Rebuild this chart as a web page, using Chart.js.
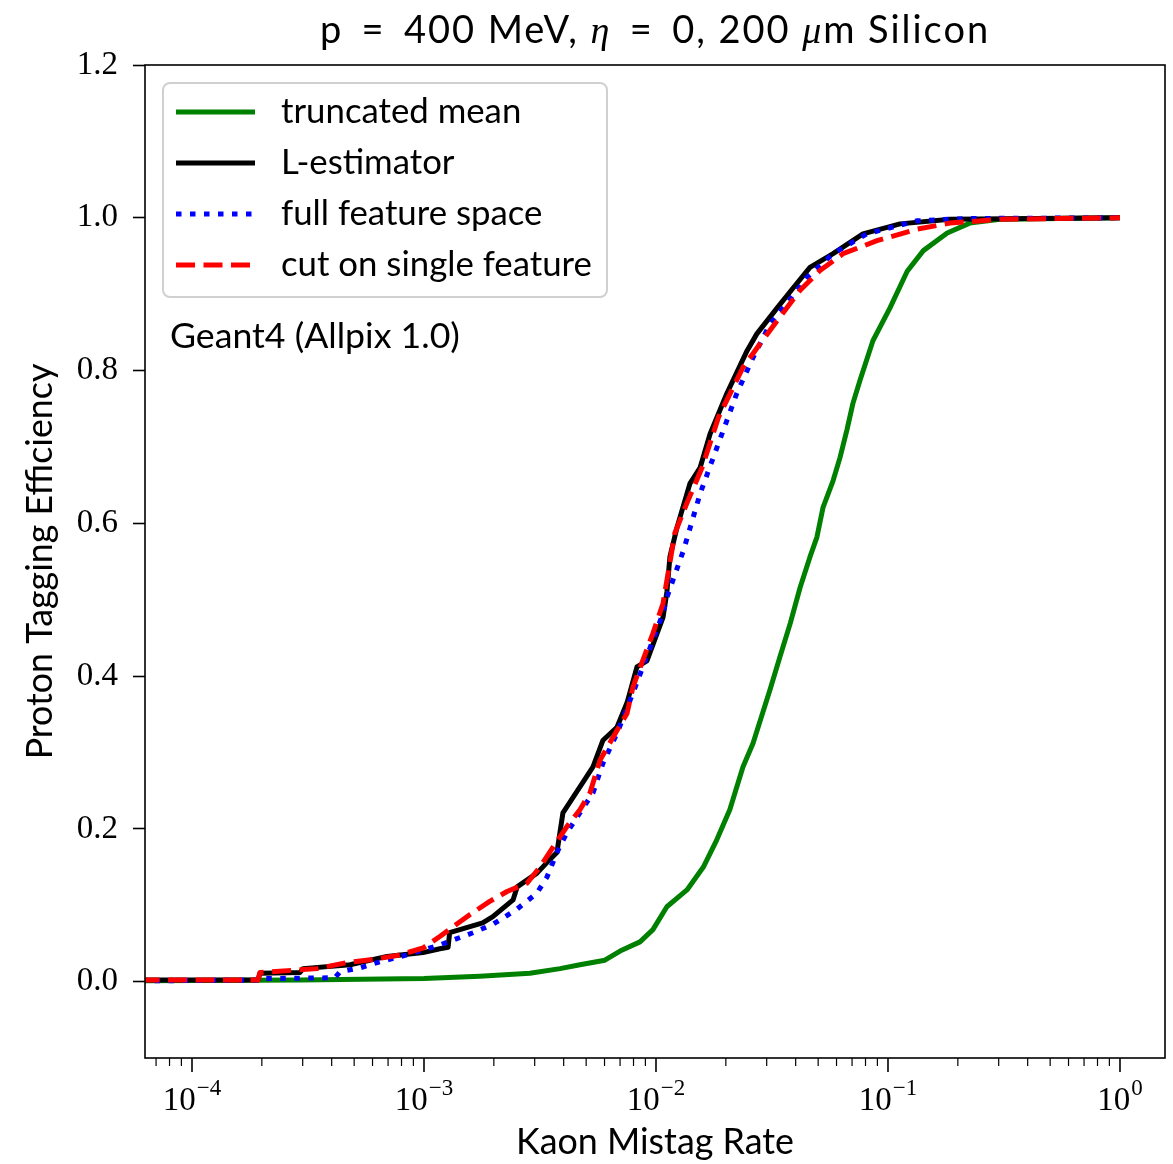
<!DOCTYPE html>
<html>
<head>
<meta charset="utf-8">
<script src="https://cdn.jsdelivr.net/npm/chart.js@4.4.1/dist/chart.umd.min.js"></script>
<style>
html, body { margin: 0; padding: 0; background: #fff; }
#wrap { width: 1173px; height: 1164px; }
</style>
</head>
<body>
<div id="wrap"><canvas id="roc"></canvas></div>
<script>
// kaon mistag rate (x) vs proton tagging efficiency (y)
const truncMeanX = [6e-5, 2.92e-4, 1.0e-3, 1.74e-3, 2.86e-3, 3.86e-3, 4.70e-3, 6.02e-3, 7.0e-3, 8.53e-3, 9.70e-3, 1.114e-2, 1.36e-2, 1.60e-2, 1.83e-2, 2.08e-2, 2.37e-2, 2.62e-2, 3.10e-2, 3.42e-2, 3.79e-2, 4.18e-2, 4.61e-2, 4.94e-2, 5.25e-2, 5.80e-2, 6.21e-2, 6.65e-2, 7.06e-2, 7.57e-2, 8.61e-2, 0.102, 0.121, 0.142, 0.180, 0.225, 0.304, 1.0];
const truncMeanY = [0.001, 0.002, 0.004, 0.007, 0.011, 0.017, 0.022, 0.028, 0.040, 0.052, 0.068, 0.098, 0.120, 0.150, 0.186, 0.225, 0.281, 0.312, 0.382, 0.425, 0.469, 0.516, 0.556, 0.582, 0.621, 0.656, 0.686, 0.722, 0.757, 0.787, 0.839, 0.882, 0.930, 0.957, 0.980, 0.993, 0.998, 1.0];

const lEstX = [6e-5, 1.925e-4, 1.963e-4, 2.92e-4, 3.01e-4, 4.80e-4, 6.93e-4, 9.9e-4, 1.17e-3, 1.27e-3, 1.29e-3, 1.79e-3, 1.98e-3, 2.42e-3, 2.52e-3, 3.07e-3, 3.49e-3, 3.74e-3, 3.97e-3, 4.70e-3, 5.35e-3, 5.91e-3, 6.79e-3, 7.50e-3, 8.28e-3, 9.14e-3, 1.072e-2, 1.114e-2, 1.148e-2, 1.233e-2, 1.40e-2, 1.55e-2, 1.71e-2, 2.02e-2, 2.47e-2, 2.72e-2, 3.33e-2, 3.90e-2, 4.61e-2, 5.80e-2, 7.80e-2, 0.1127, 0.185, 1.0];
const lEstY = [0.002, 0.002, 0.011, 0.012, 0.017, 0.022, 0.033, 0.038, 0.043, 0.045, 0.064, 0.077, 0.085, 0.107, 0.124, 0.142, 0.160, 0.169, 0.221, 0.255, 0.281, 0.316, 0.333, 0.365, 0.412, 0.420, 0.477, 0.510, 0.556, 0.595, 0.652, 0.673, 0.717, 0.770, 0.826, 0.848, 0.882, 0.908, 0.935, 0.953, 0.979, 0.992, 0.998, 1.0];

const fullFeatX = [6e-5, 1.963e-4, 2.06e-4, 4.13e-4, 4.35e-4, 5.30e-4, 6.45e-4, 8.45e-4, 1.17e-3, 1.625e-3, 1.98e-3, 2.52e-3, 3.07e-3, 3.39e-3, 3.74e-3, 4.13e-3, 4.70e-3, 5.35e-3, 5.91e-3, 6.79e-3, 7.96e-3, 9.70e-3, 1.072e-2, 1.114e-2, 1.315e-2, 1.55e-2, 1.83e-2, 2.23e-2, 2.62e-2, 3.10e-2, 3.67e-2, 4.48e-2, 5.80e-2, 8.11e-2, 0.133, 0.219, 1.0];
const fullFeatY = [0.001, 0.002, 0.004, 0.005, 0.013, 0.018, 0.026, 0.035, 0.048, 0.064, 0.075, 0.095, 0.116, 0.137, 0.169, 0.195, 0.221, 0.247, 0.286, 0.325, 0.378, 0.447, 0.482, 0.503, 0.565, 0.639, 0.699, 0.770, 0.817, 0.861, 0.888, 0.922, 0.953, 0.979, 0.996, 0.999, 1.0];

const singleCutX = [6e-5, 1.925e-4, 1.963e-4, 3.46e-4, 4.66e-4, 6.03e-4, 7.88e-4, 9.9e-4, 1.17e-3, 1.58e-3, 1.92e-3, 2.28e-3, 2.78e-3, 3.16e-3, 3.60e-3, 4.13e-3, 4.70e-3, 5.19e-3, 5.74e-3, 6.53e-3, 7.50e-3, 7.96e-3, 9.70e-3, 1.072e-2, 1.205e-2, 1.374e-2, 1.58e-2, 1.86e-2, 2.37e-2, 2.81e-2, 3.42e-2, 4.18e-2, 5.09e-2, 6.40e-2, 8.97e-2, 0.133, 0.185, 0.304, 1.0];
const singleCutY = [0.002, 0.002, 0.012, 0.017, 0.025, 0.029, 0.035, 0.044, 0.059, 0.088, 0.105, 0.118, 0.129, 0.150, 0.176, 0.203, 0.225, 0.247, 0.290, 0.320, 0.351, 0.386, 0.456, 0.495, 0.587, 0.630, 0.673, 0.739, 0.804, 0.835, 0.870, 0.905, 0.931, 0.953, 0.970, 0.985, 0.993, 0.998, 1.0];

const seriesLabels = ['truncated mean', 'L-estimator', 'full feature space', 'cut on single feature'];
const yTickValues = [0, 0.2, 0.4, 0.6, 0.8, 1.0, 1.2];
const xDecadeExps = [-4, -3, -2, -1, 0];
const xDecadeLabels = ['\u22124', '\u22123', '\u22122', '\u22121', '0'];

const SANS = 'Lato';
const SERIF = '"Liberation Serif"';

function pts(xs, ys) { return xs.map((x, i) => ({ x: x, y: ys[i] })); }

function fitSize(ctx, text, family, target) {
  ctx.font = '40px ' + family;
  return 40 * target / ctx.measureText(text).width;
}

const styles = [
  { color: '#008000', width: 5, dash: [] },
  { color: '#000000', width: 5, dash: [] },
  { color: '#0000ff', width: 5, dash: [5.5, 8.5] },
  { color: '#ff0000', width: 5, dash: [19, 8.5] }
];

const decor = {
  id: 'decor',
  beforeDraw(chart) {
    const c = chart.ctx;
    c.save();
    c.fillStyle = '#fff';
    c.fillRect(0, 0, chart.width, chart.height);
    c.restore();
  },
  afterDraw(chart) {
    const c = chart.ctx, a = chart.chartArea, xs = chart.scales.x;
    c.save();
    // frame
    c.strokeStyle = '#000';
    c.lineWidth = 1.6;
    c.strokeRect(a.left, a.top, a.right - a.left, a.bottom - a.top);

    // x ticks, major and minor
    xs.ticks.forEach(t => {
      const px = xs.getPixelForValue(t.value);
      c.lineWidth = t.major ? 1.6 : 1.2;
      c.beginPath();
      c.moveTo(px, a.bottom);
      c.lineTo(px, a.bottom + (t.major ? 14 : 8));
      c.stroke();
    });

    // x tick labels 10^n
    c.fillStyle = '#000';
    c.textAlign = 'left';
    c.textBaseline = 'alphabetic';
    xDecadeExps.forEach((e, i) => {
      const px = xs.getPixelForValue(Math.pow(10, e));
      c.font = '33px ' + SERIF;
      const wb = c.measureText('10').width;
      c.font = '23px ' + SERIF;
      const ws = c.measureText(xDecadeLabels[i]).width;
      const x0 = px - (wb + ws + 1) / 2;
      c.font = '33px ' + SERIF;
      c.fillText('10', x0, 1110);
      c.font = '23px ' + SERIF;
      c.fillText(xDecadeLabels[i], x0 + wb + 1, 1095);
    });

    const cx = (a.left + a.right) / 2;
    const cy = (a.top + a.bottom) / 2;

    // title with math glyphs, a bit of extra room round "="
    const parts = [
      ['p\u2009 = \u2009400 MeV, ', SANS, ''],
      ['\u03b7', SERIF, 'italic'],
      ['\u2009 = \u20090, 200 ', SANS, ''],
      ['\u03bc', SERIF, 'italic'],
      ['m Silicon', SANS, '']
    ];
    const ts = 38;
    let tw = 0, nch = 0;
    parts.forEach(p => { c.font = p[2] + ' ' + ts + 'px ' + p[1]; tw += c.measureText(p[0]).width; nch += p[0].length; });
    const extra = Math.max(0, (670 - tw) / nch);
    c.letterSpacing = extra.toFixed(2) + 'px';
    tw = 0;
    parts.forEach(p => { c.font = p[2] + ' ' + ts + 'px ' + p[1]; tw += c.measureText(p[0]).width; });
    let tx = cx - tw / 2;
    c.textBaseline = 'alphabetic';
    parts.forEach(p => {
      c.font = p[2] + ' ' + ts + 'px ' + p[1];
      c.fillText(p[0], tx, 43);
      tx += c.measureText(p[0]).width;
    });
    c.letterSpacing = '0px';

    // axis titles
    c.textAlign = 'center';
    c.textBaseline = 'middle';
    c.font = fitSize(c, 'Kaon Mistag Rate', SANS, 278) + 'px ' + SANS;
    c.fillText('Kaon Mistag Rate', cx, 1142);
    c.save();
    c.translate(40, cy);
    c.rotate(-Math.PI / 2);
    c.font = fitSize(c, 'Proton Tagging Efficiency', SANS, 396) + 'px ' + SANS;
    c.fillText('Proton Tagging Efficiency', 0, 0);
    c.restore();

    // legend
    const lx = 163, ly = 83, lw = 444, lh = 214;
    c.beginPath();
    c.roundRect(lx, ly, lw, lh, 7);
    c.fillStyle = 'rgba(255,255,255,0.85)';
    c.fill();
    c.strokeStyle = '#d0d0d0';
    c.lineWidth = 2;
    c.stroke();
    const ls = fitSize(c, seriesLabels[3], SANS, 311);
    seriesLabels.forEach((lab, i) => {
      const yy = 112 + i * 51;
      const s = styles[i];
      c.strokeStyle = s.color;
      c.lineWidth = s.width;
      c.setLineDash(s.dash);
      c.beginPath();
      c.moveTo(176, yy);
      c.lineTo(255, yy);
      c.stroke();
      c.setLineDash([]);
      c.fillStyle = '#000';
      c.textAlign = 'left';
      c.font = ls + 'px ' + SANS;
      c.fillText(lab, 281, yy);
    });

    // annotation
    c.font = fitSize(c, 'Geant4 (Allpix 1.0)', SANS, 290) + 'px ' + SANS;
    c.fillText('Geant4 (Allpix 1.0)', 170, 336);
    c.restore();
  }
};

const datasets = [
  [truncMeanX, truncMeanY],
  [lEstX, lEstY],
  [fullFeatX, fullFeatY],
  [singleCutX, singleCutY]
].map((d, i) => ({
  label: seriesLabels[i],
  data: pts(d[0], d[1]),
  borderColor: styles[i].color,
  borderWidth: styles[i].width,
  borderDash: styles[i].dash,
  borderJoinStyle: 'round',
  pointRadius: 0,
  tension: 0,
  fill: false,
  order: 4 - i
}));

new Chart(document.getElementById('roc'), {
  type: 'line',
  data: { datasets: datasets },
  plugins: [decor],
  options: {
    responsive: true,
    maintainAspectRatio: false,
    animation: false,
    layout: { padding: { top: 65, right: 8, left: 0, bottom: 0 } },
    plugins: { legend: { display: false }, tooltip: { enabled: false }, title: { display: false } },
    scales: {
      x: {
        type: 'logarithmic',
        min: Math.pow(10, -4.2026),
        max: Math.pow(10, 0.194),
        grid: { display: false },
        border: { display: false },
        ticks: { display: false },
        afterBuildTicks(scale) {
          const t = [];
          for (let e = -5; e <= 0; e++) {
            for (let k = 1; k <= 9; k++) {
              const v = k * Math.pow(10, e);
              if (v >= scale.min && v <= scale.max) t.push({ value: v, major: k === 1 });
            }
          }
          scale.ticks = t;
        },
        afterFit(scale) { scale.height = 106; }
      },
      y: {
        type: 'linear',
        min: -0.1,
        max: 1.2,
        afterBuildTicks(scale) { scale.ticks = yTickValues.map(v => ({ value: v })); },
        afterFit(scale) { scale.width = 145; },
        grid: { drawOnChartArea: false, drawTicks: true, tickLength: 12, tickWidth: 1.6, tickColor: '#000' },
        border: { display: false },
        ticks: {
          color: '#000',
          padding: 15,
          font: { family: 'Liberation Serif', size: 33 },
          callback: v => v.toFixed(1)
        }
      }
    }
  }
});
</script>
</body>
</html>
